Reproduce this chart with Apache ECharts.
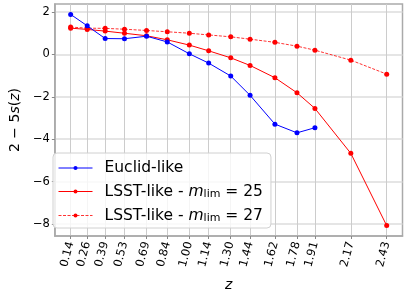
<!DOCTYPE html>
<html>
<head>
<meta charset="utf-8">
<script src="https://cdn.jsdelivr.net/npm/echarts@6/dist/echarts.min.js"></script>
<style>html,body{margin:0;padding:0;background:#fff}#c{width:407px;height:297px}</style>
</head>
<body>
<div id="c"></div>
<script>
const zValues = [0.14, 0.26, 0.39, 0.53, 0.69, 0.84, 1.00, 1.14, 1.30, 1.44, 1.62, 1.78, 1.91, 2.17, 2.43];
const euclidZ = [0.14, 0.26, 0.39, 0.53, 0.69, 0.84, 1.00, 1.14, 1.30, 1.44, 1.62, 1.78, 1.91];
const euclid = [1.89, 1.35, 0.75, 0.74, 0.86, 0.59, 0.03, -0.41, -1.02, -1.93, -3.29, -3.70, -3.46];
const lsst25 = [1.24, 1.18, 1.10, 1.00, 0.88, 0.69, 0.44, 0.17, -0.16, -0.52, -1.10, -1.81, -2.55, -4.67, -8.08];
const lsst27 = [1.29, 1.24, 1.23, 1.19, 1.13, 1.07, 1.00, 0.92, 0.83, 0.72, 0.57, 0.39, 0.20, -0.27, -0.93];
const yTicks = [-8, -6, -4, -2, 0, 2];

const pair = (xs, ys) => xs.map((x, i) => [x, ys[i]]);
const font = 'DejaVu Sans';
const legendRich = {
  n: {fontFamily: font, fontSize: 15.5, lineHeight: 20, color: '#000'},
  m: {fontFamily: font, fontSize: 15.5, lineHeight: 20, fontStyle: 'italic', color: '#000'},
  s: {fontFamily: font, fontSize: 11, lineHeight: 14, padding: [6, 0, 0, 0], color: '#000'}
};
const names = ['Euclid-like', 'LSST-like 25', 'LSST-like 27'];

const chart = echarts.init(document.getElementById('c'), null, {renderer: 'canvas'});
chart.setOption({
  animation: false,
  grid: {left: 45, right: 4.5, top: 4, bottom: 61, show: true, borderColor: '#aaaaaa', borderWidth: 1.5, backgroundColor: 'transparent'},
  xAxis: {
    type: 'value', min: 0.0255, max: 2.5445,
    name: 'z', nameLocation: 'middle', nameGap: 42,
    nameTextStyle: {fontFamily: font, fontSize: 14, fontStyle: 'italic', color: '#000'},
    axisLine: {show: true, onZero: false, lineStyle: {color: '#aaaaaa', width: 1.5}},
    axisTick: {show: true, length: 3, customValues: zValues, lineStyle: {color: '#888'}},
    axisLabel: {customValues: zValues, rotate: 75, margin: 6, fontFamily: font, fontSize: 11.5, color: '#000',
      formatter: v => v.toFixed(2)},
    splitLine: {show: true, lineStyle: {color: '#cccccc', width: 1}}
  },
  yAxis: {
    type: 'value', min: -8.57, max: 2.38,
    name: '{n|2 − 5}{i|s}{n|(}{i|z}{n|)}', nameLocation: 'middle', nameGap: 25, nameRotate: 90,
    nameTextStyle: {rich: {
      n: {fontFamily: font, fontSize: 14, color: '#000'},
      i: {fontFamily: font, fontSize: 14, fontStyle: 'italic', color: '#000'}
    }},
    axisLine: {show: true, onZero: false, lineStyle: {color: '#aaaaaa', width: 1.5}},
    axisTick: {show: true, length: 3, customValues: yTicks, lineStyle: {color: '#888'}},
    axisLabel: {customValues: yTicks, margin: 5, fontFamily: font, fontSize: 11.5, color: '#000',
      formatter: v => String(v).replace('-', '−')},
    splitLine: {show: true, lineStyle: {color: '#dddddd', width: 1.5}}
  },
  legend: {
    orient: 'vertical', left: 53, top: 153,
    padding: [7, 8, 4, 5], itemGap: 7, itemWidth: 34, itemHeight: 5,
    backgroundColor: 'rgba(255,255,255,0.8)', borderColor: '#d0d0d0', borderWidth: 1, borderRadius: 4,
    textStyle: {fontFamily: font, fontSize: 15.5, color: '#000', padding: [0, 0, 0, 7], rich: legendRich},
    lineStyle: {width: 1},
    formatter: function (name) {
      if (name === names[0]) return '{n|Euclid-like}';
      if (name === names[1]) return '{n|LSST-like - }{m|m}{s|lim}{n| = 25}';
      return '{n|LSST-like - }{m|m}{s|lim}{n| = 27}';
    },
    data: [names[0], names[1], names[2]]
  },
  series: [
    {name: names[0], type: 'line', data: pair(euclidZ, euclid), symbol: 'circle', symbolSize: 5,
      itemStyle: {color: '#0000ff'}, lineStyle: {color: '#0000ff', width: 1}, z: 3},
    {name: names[1], type: 'line', data: pair(zValues, lsst25), symbol: 'circle', symbolSize: 5,
      itemStyle: {color: '#ff0000'}, lineStyle: {color: '#ff0000', width: 1}, z: 2},
    {name: names[2], type: 'line', data: pair(zValues, lsst27), symbol: 'circle', symbolSize: 5,
      itemStyle: {color: '#ff0000'}, lineStyle: {color: '#ff0000', width: 1, type: [3, 1.5], opacity: 0.8}, z: 2}
  ]
});
</script>
</body>
</html>
